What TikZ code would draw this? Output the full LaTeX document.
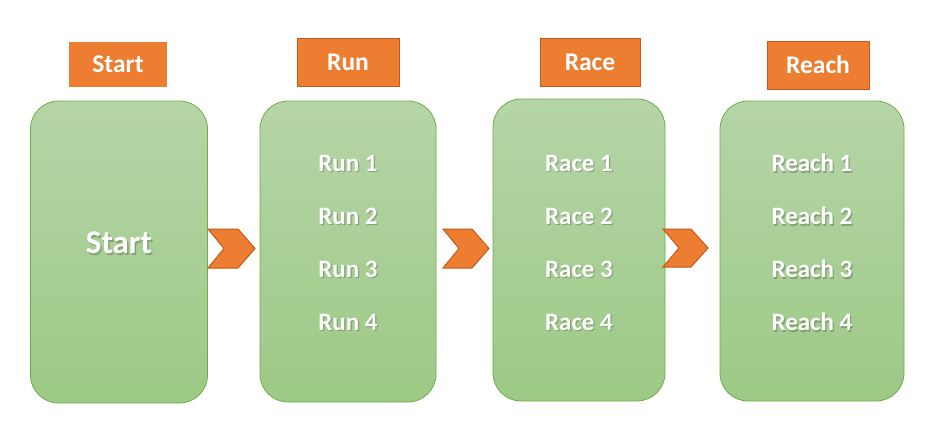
\documentclass[tikz,border=0pt]{standalone}
\usepackage{fontspec}
\setmainfont{Carlito}
\begin{document}
\begin{tikzpicture}[x=1pt,y=-1pt,
  stagebox/.style={draw=grnline,line width=0.8pt,rounded corners=28pt,top color=grntop,bottom color=grnbot,inner sep=0pt},
  tagbox/.style={draw=orgline,line width=1pt,fill=org,inner sep=0pt,font=\bfseries\fontsize{25.5}{28}\selectfont,text=white},
  chev/.style={draw=orgline,line width=1pt,fill=org,line join=miter},
  itemtxt/.style={font=\bfseries\fontsize{25}{28}\selectfont,text=white},
  shad/.style={font=\bfseries\fontsize{25}{28}\selectfont,text=black,opacity=0.22}
]
\definecolor{grntop}{HTML}{B5D5A7}
\definecolor{grnbot}{HTML}{9DC986}
\definecolor{grnline}{HTML}{70AD47}
\definecolor{org}{HTML}{ED7D31}
\definecolor{orgline}{HTML}{C0591A}
\useasboundingbox (0,0) rectangle (933,424);
\fill[white] (0,0) rectangle (933,424);

% big boxes
\node[stagebox,minimum width=177pt,minimum height=302pt] (b1) at (119,252) {};
\node[stagebox,minimum width=176pt,minimum height=301pt] (b2) at (348,251.5) {};
\node[stagebox,minimum width=172pt,minimum height=302pt] (b3) at (579,250) {};
\node[stagebox,minimum width=184pt,minimum height=300pt] (b4) at (812,251) {};

% tags
\node[tagbox,draw=none,minimum width=98pt,minimum height=45pt] (t1) at (118,64.5) {Start};
\node[tagbox,minimum width=102pt,minimum height=48pt] (t2) at (348,62) {Run};
\node[tagbox,minimum width=100pt,minimum height=48pt] (t3) at (590,62) {Race};
\node[tagbox,minimum width=102pt,minimum height=48pt] (t4) at (818,65) {Reach};

% chevrons
\draw[chev] (208,229) -- (238,229) -- (255,248.5) -- (238,268) -- (208,268) -- (224,248.5) -- cycle;
\draw[chev] (443,229) -- (472,229) -- (489,248.5) -- (472,268) -- (443,268) -- (459,248.5) -- cycle;
\draw[chev] (663,229) -- (691,229) -- (708,248) -- (691,267) -- (663,267) -- (679,248) -- cycle;

% texts
\node[shad,font=\bfseries\fontsize{33}{36}\selectfont] at (120.5,244.5) {Start};
\node[itemtxt,font=\bfseries\fontsize{33}{36}\selectfont] (s0) at (119,243) {Start};

\foreach \n/\x/\w in {2/348/Run,3/579/Race,4/812/Reach}{
  \foreach \i/\y in {1/163,2/216,3/269,4/322}{
    \node[shad] at (\x+1.2,\y+1.5) {\w\ \i};
    \node[itemtxt] (i\n\i) at (\x,\y) {\w\ \i};
  }
}
\end{tikzpicture}
\end{document}
